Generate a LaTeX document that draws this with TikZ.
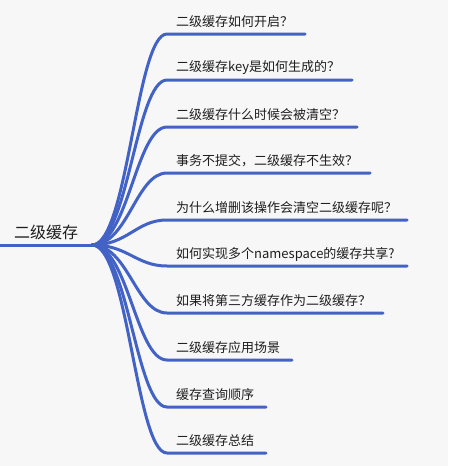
\documentclass[tikz,border=0pt]{standalone}
\usepackage{fontspec}
\newfontfamily\cjk{Noto Sans CJK SC}
\definecolor{bg}{HTML}{F7F7F7}
\definecolor{branch}{HTML}{4262C6}
\definecolor{txt}{HTML}{1E1E1E}
\begin{document}
\begin{tikzpicture}[x=1pt,y=-1pt,
  link/.style={draw=branch,line width=3pt,line cap=round},
  leaf/.style={anchor=west,inner sep=0pt,text=txt,font=\cjk\fontsize{13}{15}\selectfont},
  rootlabel/.style={anchor=west,inner sep=0pt,text=txt,font=\cjk\fontsize{16}{18}\selectfont}]
\fill[bg] (0,0) rectangle (448,466);
\useasboundingbox (0,0) rectangle (448,466);
\coordinate (r0) at (0,245);
\coordinate (r1) at (92,245);
\node[rootlabel] (root) at (14,232) {二级缓存};
\draw[link,line cap=butt] (r0) -- (r1);
\foreach \i/\y/\e/\t in {
 1/34/305/{二级缓存如何开启？},
 2/80/352/{二级缓存key是如何生成的？},
 3/127/357/{二级缓存什么时候会被清空？},
 4/173/370/{事务不提交，二级缓存不生效？},
 5/220/407/{为什么增删该操作会清空二级缓存呢？},
 6/266/407/{如何实现多个namespace的缓存共享?},
 7/313/383/{如果将第三方缓存作为二级缓存？},
 8/360/292/{二级缓存应用场景},
 9/407/266/{缓存查询顺序},
 10/453/266/{二级缓存总结}}{
  \coordinate (s\i) at (167,\y);
  \coordinate (e\i) at (\e,\y);
  \node[leaf] (c\i) at (176,\y-12) {\t};
  \draw[link] (r1) .. controls (128,245) and (136,\y) .. (s\i) -- (e\i);
}
\end{tikzpicture}
\end{document}
